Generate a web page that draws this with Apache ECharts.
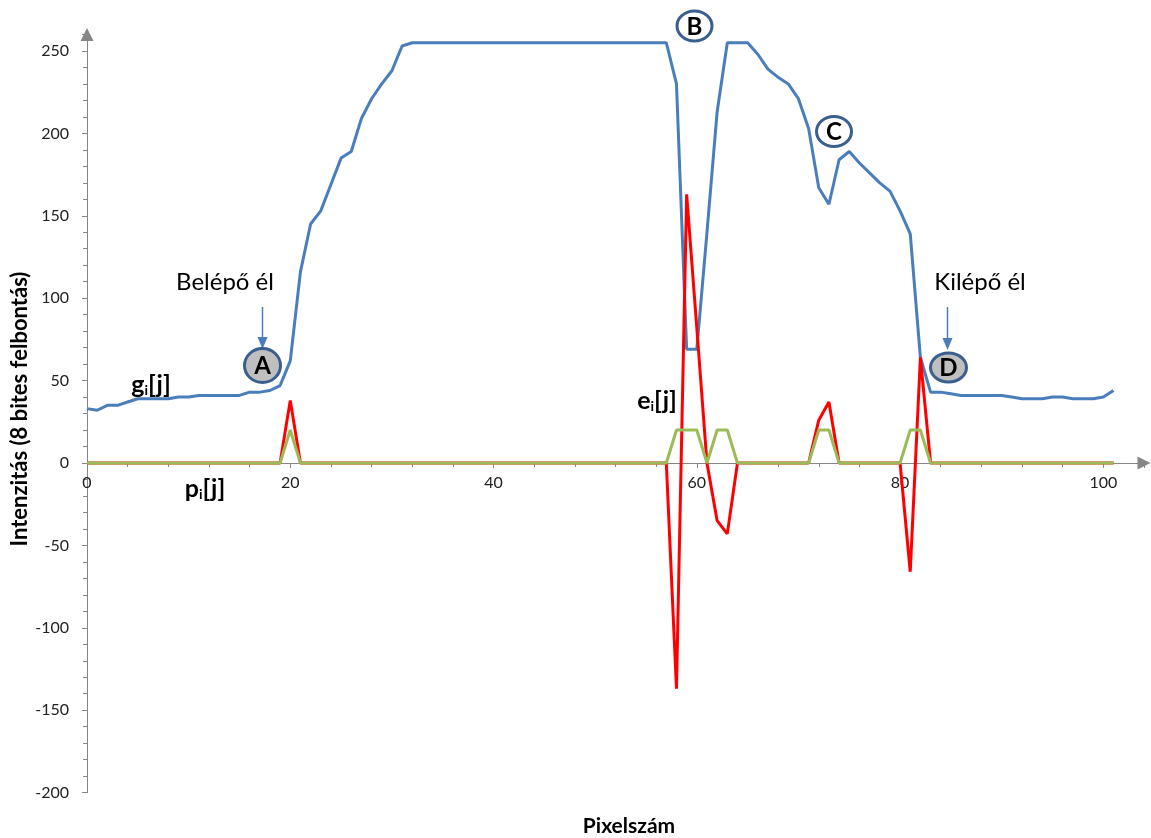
<!DOCTYPE html>
<html>
<head>
<meta charset="utf-8">
<script src="https://cdn.jsdelivr.net/npm/echarts@6/dist/echarts.min.js"></script>
<style>
html,body{margin:0;padding:0;background:#fff;}
#c{width:1151px;height:838px;}
</style>
</head>
<body>
<div id="c"></div>
<script>
// g_i[j] intensity per pixel j = 0..101
const gValues = [33,32,35,35,37,39,39,39,39,40,40,41,41,41,41,41,43,43,44,47,
  62,116,145,153,169,185,189,209,221,230,238,253,255,255,255,255,255,255,255,255,
  255,255,255,255,255,255,255,255,255,255,255,255,255,255,255,255,255,255,230,69,
  69,140,213,255,255,255,248,239,234,230,221,203,167,157,184,189,182,176,170,165,
  153,139,64,43,43,42,41,41,41,41,41,40,39,39,39,40,40,39,39,39,40,44];
// e_i[j] edge response
const eValues = [0,0,0,0,0,0,0,0,0,0,0,0,0,0,0,0,0,0,0,0,
  38,0,0,0,0,0,0,0,0,0,0,0,0,0,0,0,0,0,0,0,
  0,0,0,0,0,0,0,0,0,0,0,0,0,0,0,0,0,0,-137,163,
  82,0,-35,-43,0,0,0,0,0,0,0,0,26,37,0,0,0,0,0,0,
  0,-66,64,0,0,0,0,0,0,0,0,0,0,0,0,0,0,0,0,0,0,0];
// p_i[j] detected edge pixels
const pValues = [0,0,0,0,0,0,0,0,0,0,0,0,0,0,0,0,0,0,0,0,
  20,0,0,0,0,0,0,0,0,0,0,0,0,0,0,0,0,0,0,0,
  0,0,0,0,0,0,0,0,0,0,0,0,0,0,0,0,0,0,20,20,
  20,0,20,20,0,0,0,0,0,0,0,0,20,20,0,0,0,0,0,0,
  0,20,20,0,0,0,0,0,0,0,0,0,0,0,0,0,0,0,0,0,0,0];
const xTickLabels = ['0','20','40','60','80','100'];
const yTickLabels = ['-200','-150','-100','-50','0','50','100','150','200','250'];

const toPairs = arr => arr.map((v, j) => [j, v]);

const Y_MIN = -200, Y_MAX = 260;
const GRID = {left: 87, right: 7, top: 34.5, bottom: 45.4};
const gridH = 838 - GRID.top - GRID.bottom;
// shift the x axis up so it sits on y = 0
const xAxisOffset = -((0 - Y_MIN) / (Y_MAX - Y_MIN)) * gridH;

const chart = echarts.init(document.getElementById('c'), null, {renderer: 'canvas'});
const axisGray = '#868686';
const FONT = 'Lato';
const blue = '#4A7EBB';
const ringBlue = '#3A5F8E';

function circleLabel(cx, cy, rx, ry, fill, letter) {
  return {
    type: 'group',
    children: [
      {type: 'ellipse', shape: {cx: cx, cy: cy, rx: rx, ry: ry},
       style: {fill: fill, stroke: ringBlue, lineWidth: 3}},
      {type: 'text', x: cx, y: cy + 1,
       style: {text: letter, fill: '#000', font: 'bold 24px ' + FONT, align: 'center', verticalAlign: 'middle'}}
    ]
  };
}
function arrow(x, y1, y2) {
  return {
    type: 'group',
    children: [
      {type: 'line', shape: {x1: x, y1: y1, x2: x, y2: y2 - 10}, style: {stroke: blue, lineWidth: 1.5}},
      {type: 'polygon', shape: {points: [[x - 5, y2 - 12], [x + 5, y2 - 12], [x, y2]]}, style: {fill: blue}}
    ]
  };
}
function subLabel(x, y, base) {
  return {
    type: 'text', x: x, y: y,
    style: {
      rich: {
        b: {font: 'bold 25px ' + FONT, fill: '#000', lineHeight: 28, verticalAlign: 'bottom'},
        s: {font: 'bold 14px ' + FONT, fill: '#000', lineHeight: 28, verticalAlign: 'bottom'}
      },
      text: '{b|' + base + '}{s|i}{b|[j]}',
      align: 'center', verticalAlign: 'middle'
    }
  };
}

chart.setOption({
  animation: false,
  backgroundColor: '#fff',
  grid: Object.assign({containLabel: false}, GRID),
  xAxis: {
    type: 'value', min: 0, max: 104, interval: 20,
    position: 'bottom', offset: xAxisOffset,
    axisLine: {onZero: false, lineStyle: {color: axisGray, width: 1}, symbol: ['none', 'triangle'], symbolSize: [13, 13]},
    axisTick: {show: true, length: 5, lineStyle: {color: axisGray}},
    minorTick: {show: true, splitNumber: 5, length: 4, lineStyle: {color: axisGray}},
    splitLine: {show: false},
    axisLabel: {
      margin: 12, color: '#222', fontFamily: FONT, fontSize: 16,
      formatter: v => { const s = String(v); return xTickLabels.indexOf(s) >= 0 ? s : ''; }
    }
  },
  yAxis: {
    type: 'value', min: Y_MIN, max: Y_MAX, interval: 50,
    axisLine: {show: true, onZero: false, lineStyle: {color: axisGray, width: 1}, symbol: ['none', 'triangle'], symbolSize: [13, 13]},
    axisTick: {show: true, length: 5, lineStyle: {color: axisGray}},
    minorTick: {show: true, splitNumber: 5, length: 4, lineStyle: {color: axisGray}},
    splitLine: {show: false},
    axisLabel: {
      margin: 18, color: '#222', fontFamily: FONT, fontSize: 16,
      formatter: v => { const s = String(v); return yTickLabels.indexOf(s) >= 0 ? s : ''; }
    }
  },
  series: [
    {name: 'g', type: 'line', data: toPairs(gValues), symbol: 'none', lineStyle: {color: blue, width: 3}, z: 2},
    {name: 'e', type: 'line', data: toPairs(eValues), symbol: 'none', lineStyle: {color: '#FF0000', width: 3}, z: 3},
    {name: 'p', type: 'line', data: toPairs(pValues), symbol: 'none', lineStyle: {color: '#9BBB59', width: 3}, z: 4}
  ],
  graphic: [
    {type: 'text', x: 225, y: 282, style: {text: 'Belépő él', font: '24px ' + FONT, fill: '#000', align: 'center', verticalAlign: 'middle'}},
    {type: 'text', x: 980, y: 282, style: {text: 'Kilépő él', font: '24px ' + FONT, fill: '#000', align: 'center', verticalAlign: 'middle'}},
    arrow(262.5, 307, 349),
    arrow(947.5, 307, 350),
    circleLabel(262.5, 365.5, 18, 17, '#BFBFBF', 'A'),
    circleLabel(694.5, 26, 17.5, 15, '#FFFFFF', 'B'),
    circleLabel(834, 131.5, 17.5, 15, '#FFFFFF', 'C'),
    circleLabel(948.5, 367.5, 18, 14.5, '#BFBFBF', 'D'),
    subLabel(151, 383, 'g'),
    subLabel(657, 399, 'e'),
    subLabel(205, 487, 'p'),
    {type: 'text', x: 629, y: 826, style: {text: 'Pixelszám', font: 'bold 21px ' + FONT, fill: '#000', align: 'center', verticalAlign: 'middle'}},
    {type: 'text', x: 20, y: 409, rotation: Math.PI / 2,
     style: {text: 'Intenzitás (8 bites felbontás)', font: 'bold 22px ' + FONT, fill: '#000', align: 'center', verticalAlign: 'middle'}}
  ]
});
</script>
</body>
</html>
